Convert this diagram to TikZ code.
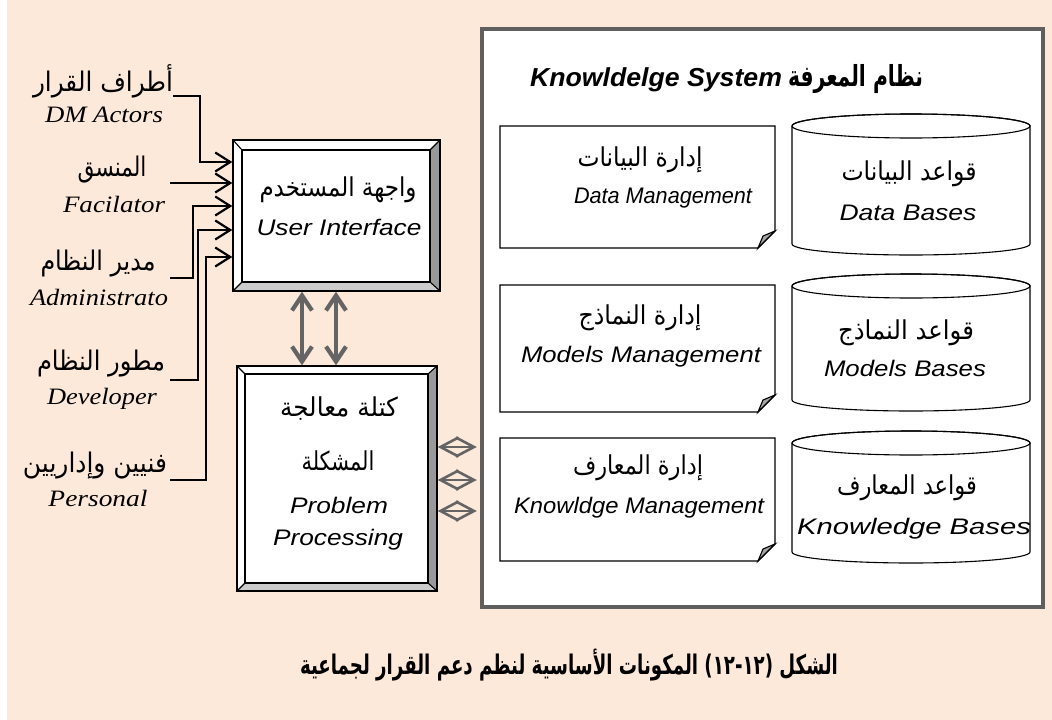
\documentclass[tikz,border=0pt]{standalone}
\usepackage{fontspec}
\usepackage{graphicx}
\setmainfont{Liberation Serif}
\newfontfamily\arabicfont[Script=Arabic]{DejaVu Sans}
\newfontfamily\lsans{Liberation Sans}
\TeXXeTstate=1
\usetikzlibrary{arrows.meta,calc}
\definecolor{peach}{RGB}{253,233,218}
\definecolor{bordergray}{RGB}{95,95,95}
\definecolor{arrgray}{RGB}{100,100,100}
\definecolor{bevdark}{RGB}{153,153,153}
\definecolor{bevlight}{RGB}{204,204,204}
\definecolor{foldgray}{RGB}{165,165,165}
\newlength\fwlen
\newcommand\fitw[2]{\settowidth\fwlen{#2}\pgfmathsetmacro\fwsc{#1/\fwlen}\scalebox{\fwsc}[1]{#2}}
\newcommand\LA[2]{\fitw{#1}{\fontsize{27}{30}\arabicfont #2}}
\newcommand\LE[2]{\fitw{#1}{\fontsize{23.5}{28}\selectfont\itshape #2}}
\newcommand\BA[2]{\fitw{#1}{\fontsize{26}{30}\arabicfont #2}}
\newcommand\BE[2]{\fitw{#1}{\fontsize{22.5}{27}\lsans\itshape #2}}
\tikzset{
 lbl/.style={inner sep=0pt, anchor=base},
 inarrow/.style={draw=black, line width=2.2pt, -{Straight Barb[length=15pt,width=19pt]}},
 vdbl/.style={draw=arrgray, line width=4.2pt, {Straight Barb[length=15pt,width=20pt]}-{Straight Barb[length=15pt,width=20pt]}},
 hdbl/.style={draw=arrgray, line width=2.6pt, {Straight Barb[length=18pt,width=19pt]}-{Straight Barb[length=18pt,width=19pt]}},
 thinline/.style={draw=black, line width=1.1pt},
}
\begin{document}
\begin{tikzpicture}[x=1pt,y=-1pt]
\useasboundingbox (0,0) rectangle (1052,720);
\fill[peach] (7,0) rectangle (1052,720);

% knowledge system frame
\node[draw=bordergray, line width=4.5pt, fill=white, minimum width=561pt, minimum height=578pt, inner sep=0pt] (ks) at (762.5,318) {};
\node[lbl] (kst) at (656,86) {\fitw{252}{\fontsize{26}{30}\lsans\bfseries\itshape Knowldelge System}};
\node[lbl] (ksa) at (855.5,86) {\fitw{135}{\fontsize{29}{32}\arabicfont\bfseries\beginR نظام المعرفة\endR}};

% management notes
\foreach \t/\h/\n in {126/122/dm,285/127/mm,438/123/km}{
  \draw[thinline, fill=white] (500,\t) -- (775,\t) -- (775,\t+\h-17) -- (758,\t+\h) -- (500,\t+\h) -- cycle;
  \draw[thinline, fill=foldgray] (775,\t+\h-17) -- (758,\t+\h) -- (763,\t+\h-12) -- cycle;
  \node[inner sep=0pt, minimum width=275pt, minimum height=\h] (\n) at (637.5,\t+\h/2) {};
}
% cylinders
\foreach \t/\b/\n in {126/244/db,286/400/mb,443/552/kb}{
  \draw[thinline, fill=white] (792,\t) -- (792,\b) arc[start angle=180,end angle=360,x radius=119pt,y radius=11pt] -- (1030,\t) arc[start angle=0,end angle=180,x radius=119pt,y radius=12pt] -- cycle;
  \draw[thinline] (911,\t) ellipse[x radius=119pt, y radius=12pt];
  \node[inner sep=0pt, minimum width=238pt, minimum height=\b-\t] (\n) at (911,{(\t+\b)/2}) {};
}
\node[lbl] (dma) at (640,166) {\BA{125}{\beginR إدارة البيانات\endR}};
\node[lbl] (dmb) at (663,203) {\BE{178}{Data Management}};
\node[lbl] (dba) at (909,180) {\BA{135}{\beginR قواعد البيانات\endR}};
\node[lbl] (dbb) at (908,220) {\BE{137}{Data Bases}};
\node[lbl] (mma) at (640,324) {\BA{123}{\beginR إدارة النماذج\endR}};
\node[lbl] (mmb) at (641,362) {\BE{240}{Models Management}};
\node[lbl] (mba) at (906,339) {\BA{136}{\beginR قواعد النماذج\endR}};
\node[lbl] (mbb) at (905,376) {\BE{162}{Models Bases}};
\node[lbl] (kma) at (638,474) {\BA{130}{\beginR إدارة المعارف\endR}};
\node[lbl] (kmb) at (639,513) {\BE{250}{Knowldge Management}};
\node[lbl] (kba) at (907,494) {\BA{140}{\beginR قواعد المعارف\endR}};
\node[lbl] (kbb) at (914,534) {\BE{234}{Knowledge Bases}};

% user interface bevel box
\fill[white] (233,140) -- (440,140) -- (430,150) -- (242,150) -- cycle;
\fill[white] (233,140) -- (242,150) -- (242,282) -- (233,291) -- cycle;
\fill[bevdark] (440,140) -- (440,291) -- (430,282) -- (430,150) -- cycle;
\fill[bevlight] (233,291) -- (440,291) -- (430,282) -- (242,282) -- cycle;
\draw[thinline, fill=white] (242,150) rectangle (430,282);
\draw[thinline] (233,140) -- (242,150) (440,140) -- (430,150) (440,291) -- (430,282) (233,291) -- (242,282);
\node[draw, line width=1.4pt, minimum width=207pt, minimum height=151pt, inner sep=0pt] (ui) at (336.5,215.5) {};
\node[lbl] (uia) at (338,196) {\BA{157}{\beginR واجهة المستخدم\endR}};
\node[lbl] (uib) at (339,235) {\BE{165}{User Interface}};

% problem processing bevel box
\fill[white] (237,366) -- (437,366) -- (428,374) -- (245,374) -- cycle;
\fill[white] (237,366) -- (245,374) -- (245,583) -- (237,591) -- cycle;
\fill[bevdark] (437,366) -- (437,591) -- (428,583) -- (428,374) -- cycle;
\fill[bevlight] (237,591) -- (437,591) -- (428,583) -- (245,583) -- cycle;
\draw[thinline, fill=white] (245,374) rectangle (428,583);
\draw[thinline] (237,366) -- (245,374) (437,366) -- (428,374) (437,591) -- (428,583) (237,591) -- (245,583);
\node[draw, line width=1.4pt, minimum width=200pt, minimum height=225pt, inner sep=0pt] (pp) at (337,478.5) {};
\node[lbl] (ppa) at (339,416) {\BA{118}{\beginR كتلة معالجة\endR}};
\node[lbl] (ppb) at (338,470) {\BA{73}{\beginR المشكلة\endR}};
\node[lbl] (ppc) at (339,513) {\BE{98}{Problem}};
\node[lbl] (ppd) at (338,545) {\BE{130}{Processing}};

% left labels
\node[lbl] (l1a) at (103,91) {\LA{140}{\beginR أطراف القرار\endR}};
\node[lbl] (l1b) at (104,122) {\LE{118}{DM Actors}};
\node[lbl] (l2a) at (112,176) {\LA{69}{\beginR المنسق\endR}};
\node[lbl] (l2b) at (114,212) {\LE{102}{Facilator}};
\node[lbl] (l3a) at (98,270) {\LA{115}{\beginR مدير النظام\endR}};
\node[lbl] (l3b) at (99,305) {\LE{138}{Administrato}};
\node[lbl] (l4a) at (101,370) {\LA{128}{\beginR مطور النظام\endR}};
\node[lbl] (l4b) at (102,404) {\LE{110}{Developer}};
\node[lbl] (l5a) at (95,472) {\LA{144}{\beginR فنيين وإداريين\endR}};
\node[lbl] (l5b) at (98,506) {\LE{99}{Personal}};

\coordinate (s1) at (173,96);
\coordinate (s2) at (170,183);
\coordinate (s3) at (170,278);
\coordinate (s4) at (170,380);
\coordinate (s5) at (170,480);
\draw[inarrow] (s1) -| (200,162) -- (ui.west |- 0,162);
\draw[inarrow] (s2) -- (ui.west |- s2);
\draw[inarrow] (s3) -| (193,206) -- (ui.west |- 0,206);
\draw[inarrow] (s4) -| (198,230) -- (ui.west |- 0,230);
\draw[inarrow] (s5) -| (206,257) -- (ui.west |- 0,257);

% ui <-> pp
\draw[vdbl] (ui.south -| 302,0) -- (pp.north -| 302,0);
\draw[vdbl] (ui.south -| 336,0) -- (pp.north -| 336,0);
% pp <-> ks
\foreach \yy in {447,480,511}{
  \draw[hdbl] (pp.east |- 0,\yy) -- ([xshift=-3pt]ks.west |- 0,\yy);
}

% caption
\node[lbl] (cap) at (569,674) {\fitw{538}{\fontsize{27}{30}\arabicfont\bfseries\beginR المكونات الأساسية لنظم دعم القرار لجماعية\endR\ (١٢-١٢)\ \beginR الشكل\endR}};
\end{tikzpicture}
\end{document}
